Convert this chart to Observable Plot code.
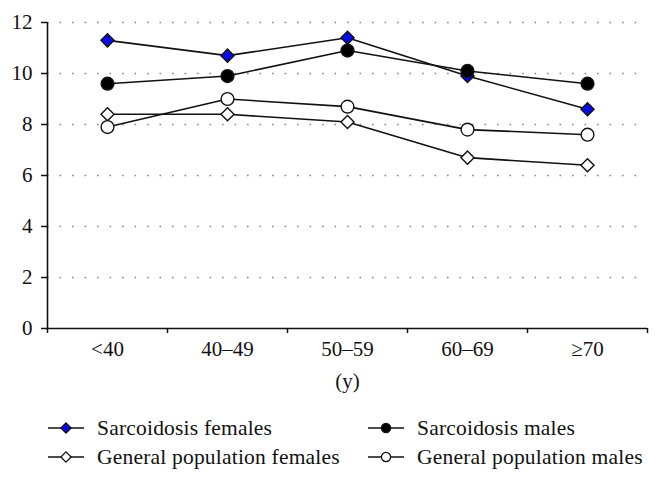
<!DOCTYPE html>
<html><head><meta charset="utf-8">
<script src="https://cdn.jsdelivr.net/npm/d3@7"></script>
<script src="https://cdn.jsdelivr.net/npm/@observablehq/plot@0.6"></script>
<style>
body{margin:0;background:#fff;font-family:"Liberation Serif","DejaVu Serif",serif;}
#wrap{position:relative;width:661px;height:483px;overflow:hidden;}
#wrap svg{display:block;}
.leg{position:absolute;display:flex;align-items:center;font-size:21.5px;color:#111;white-space:nowrap;height:24px;letter-spacing:0.2px;}
.leg svg{margin-right:13px;}
</style></head><body><div id="wrap"></div>
<script>
const categories = ["<40", "40–49", "50–59", "60–69", "≥70"];
const sarcoidosisFemales = [11.3, 10.7, 11.4, 9.9, 8.6];
const sarcoidosisMales = [9.6, 9.9, 10.9, 10.1, 9.6];
const generalFemales = [8.4, 8.4, 8.1, 6.7, 6.4];
const generalMales = [7.9, 9.0, 8.7, 7.8, 7.6];
const yTicks = [0, 2, 4, 6, 8, 10, 12];
const gridTicks = [2, 4, 6, 8, 10, 12];
const xLabel = "(y)";
const seriesNames = ["Sarcoidosis females", "General population females", "Sarcoidosis males", "General population males"];
const seriesValues = [sarcoidosisFemales, generalFemales, sarcoidosisMales, generalMales];
const seriesSymbols = ["diamond2", "diamond2", "circle", "circle"];
const seriesFills = ["#0a0ae6", "white", "black", "white"];
const seriesR = [5.9, 5.9, 6.4, 6.4];

const series = seriesNames.map((name, s) => ({
  name, symbol: seriesSymbols[s], fill: seriesFills[s], r: seriesR[s],
  rows: seriesValues[s].map((v, i) => ({xi: i + 0.5, value: v, series: name}))
}));

const font = '"Liberation Serif","DejaVu Serif",serif';
const plot = Plot.plot({
  width: 661, height: 395,
  marginTop: 22, marginLeft: 47, marginRight: 14, marginBottom: 67,
  style: {fontFamily: font, fontSize: "21px", color: "#111", background: "white"},
  x: {type: "linear", domain: [0, categories.length], axis: null},
  y: {domain: [0, 12], axis: null},
  marks: [
    Plot.ruleY(gridTicks, {stroke: "#888", strokeDasharray: "1.6,10.9", strokeWidth: 1.6}),
    Plot.axisY(yTicks, {tickSize: 6, tickPadding: 9, strokeWidth: 1.5, stroke: "#111", label: null, fontSize: 21}),
    Plot.axisX(d3.range(categories.length + 1), {tickSize: 5, tickFormat: () => "", strokeWidth: 1.5, stroke: "#111", label: null}),
    Plot.axisX(categories.map((c, i) => i + 0.5), {tickSize: 0, tickPadding: 13, tickFormat: (d) => categories[Math.floor(d)], label: null, fontSize: 21}),
    Plot.ruleX([0], {y1: 0, y2: 12, strokeWidth: 1.6, stroke: "#111"}),
    Plot.ruleY([0], {x1: 0, x2: categories.length, strokeWidth: 1.6, stroke: "#111"}),
    Plot.text([xLabel], {frameAnchor: "bottom", dy: 53, lineAnchor: "middle", fontSize: 21, fill: "#111"}),
    ...series.map(s => Plot.line(s.rows, {x: "xi", y: "value", stroke: "#111", strokeWidth: 1.6})),
    ...series.map(s => Plot.dot(s.rows, {x: "xi", y: "value", symbol: s.symbol, fill: s.fill, stroke: "#111", strokeWidth: 1.4, r: s.r}))
  ]
});
const wrap = document.getElementById("wrap");
wrap.appendChild(plot);

// legend
const legPos = [[48, 416], [48, 445], [368, 416], [368, 445]];
[0, 1, 2, 3].forEach((s) => {
  const d = document.createElement("div");
  d.className = "leg";
  d.style.left = legPos[s][0] + "px";
  d.style.top = legPos[s][1] + "px";
  const sym = d3.create("svg").attr("width", 36).attr("height", 24);
  sym.append("line").attr("x1", 0).attr("x2", 36).attr("y1", 12).attr("y2", 12).attr("stroke", "#111").attr("stroke-width", 1.6);
  const symType = series[s].symbol === "circle" ? d3.symbolCircle : d3.symbolDiamond2;
  const rr = 4.6;
  sym.append("path").attr("d", d3.symbol(symType, Math.PI * rr * rr)()).attr("transform", "translate(18,12)")
    .attr("fill", series[s].fill).attr("stroke", "#111").attr("stroke-width", 1.3);
  d.appendChild(sym.node());
  const t = document.createElement("span");
  t.textContent = series[s].name;
  d.appendChild(t);
  wrap.appendChild(d);
});
</script></body></html>
